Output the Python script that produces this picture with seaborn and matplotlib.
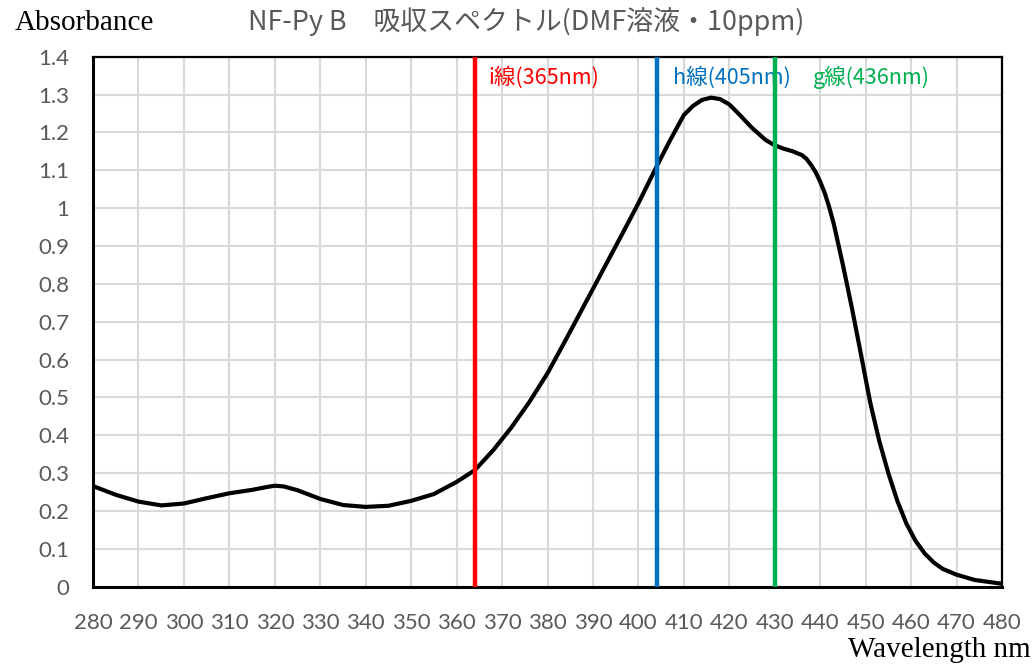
import numpy as np
import matplotlib
matplotlib.use("Agg")
import matplotlib.pyplot as plt
import pandas as pd
import seaborn as sns

# Absorbance spectrum
wavelength = [280, 285, 290, 295, 300, 305, 310, 315, 318, 320, 322, 325, 330,
              335, 340, 345, 350, 355, 360, 364, 368, 372, 376, 380, 384, 388,
              392, 396, 400, 404, 407, 410, 412, 414, 416, 418, 420, 422, 425,
              428, 430, 432, 434, 436, 437, 438, 439, 440, 441, 442, 443, 445,
              447, 449, 451, 453, 455, 457, 459, 461, 463, 465, 467, 470, 474,
              480]
absorbance = [0.266, 0.243, 0.225, 0.215, 0.220, 0.234, 0.247, 0.256, 0.263,
              0.267, 0.265, 0.255, 0.232, 0.216, 0.211, 0.214, 0.227, 0.245,
              0.277, 0.308, 0.360, 0.420, 0.488, 0.564, 0.652, 0.742, 0.832,
              0.922, 1.013, 1.110, 1.180, 1.246, 1.270, 1.286, 1.292, 1.288,
              1.274, 1.250, 1.212, 1.180, 1.166, 1.157, 1.150, 1.140, 1.130,
              1.114, 1.095, 1.070, 1.040, 1.002, 0.958, 0.850, 0.735, 0.612,
              0.487, 0.385, 0.300, 0.226, 0.166, 0.121, 0.088, 0.064, 0.047,
              0.032, 0.018, 0.008]

# exposure lines (positions as drawn in the chart)
line_pos = [364, 404, 430]
line_labels = ["i線(365nm)", "h線(405nm)", "g線(436nm)"]
line_colors = ["#FF0000", "#0070C0", "#00B050"]
label_x = [366.9, 407.6, 438.3]

title = "NF-Py B\u3000吸収スペクトル(DMF溶液・10ppm)"

df = pd.DataFrame({"wl": wavelength, "abs": absorbance})

sns.set_theme(style="white")
plt.rcParams["font.family"] = ["Noto Sans CJK JP", "DejaVu Sans"]

fig = plt.figure(figsize=(10.35, 6.65), dpi=100)
ax = fig.add_axes([0.0899, 0.1176, 0.8782, 0.7971])

sns.lineplot(data=df, x="wl", y="abs", color="black", lw=3, ax=ax, zorder=3)

for pos, lab, col, lx in zip(line_pos, line_labels, line_colors, label_x):
    ax.axvline(pos, color=col, lw=3.2, zorder=4)
    ax.text(lx, 1.345, lab, color=col, fontsize=15.5, va="center", ha="left",
            family=["Noto Sans CJK JP", "DejaVu Sans"])

ax.set_xlim(280, 480)
ax.set_ylim(0, 1.4)
ax.set_xticks(np.arange(280, 481, 10))
yt = np.round(np.arange(0, 1.41, 0.1), 1)
ax.set_yticks(yt)
ax.set_yticklabels([f"{v:g}" for v in yt])
ax.grid(True, color="#D9D9D9", lw=1.5)
ax.set_axisbelow(True)
ax.tick_params(axis="both", length=0, labelsize=16, labelcolor="#595959")
ax.tick_params(axis="x", pad=19)
ax.tick_params(axis="y", pad=17)
for lab in ax.get_xticklabels() + ax.get_yticklabels():
    lab.set_family(["Lato", "DejaVu Sans"])

for side in ["left", "bottom"]:
    ax.spines[side].set_linewidth(2.2)
for side in ["top", "right"]:
    ax.spines[side].set_linewidth(1.6)
for s in ax.spines.values():
    s.set_color("black")

ax.set_xlabel("")
ax.set_ylabel("")
fig.text(0.0145, 0.966, "Absorbance", fontsize=21, family="Liberation Serif",
         va="center", ha="left", color="black")
fig.text(0.996, 0.022, "Wavelength nm", fontsize=21, family="Liberation Serif",
         va="center", ha="right", color="black")
fig.text(0.508, 0.968, title, fontsize=19.4, color="#595959", ha="center", va="center",
         family=["Noto Sans CJK JP", "DejaVu Sans"])

fig.savefig("out.png", dpi=100)
